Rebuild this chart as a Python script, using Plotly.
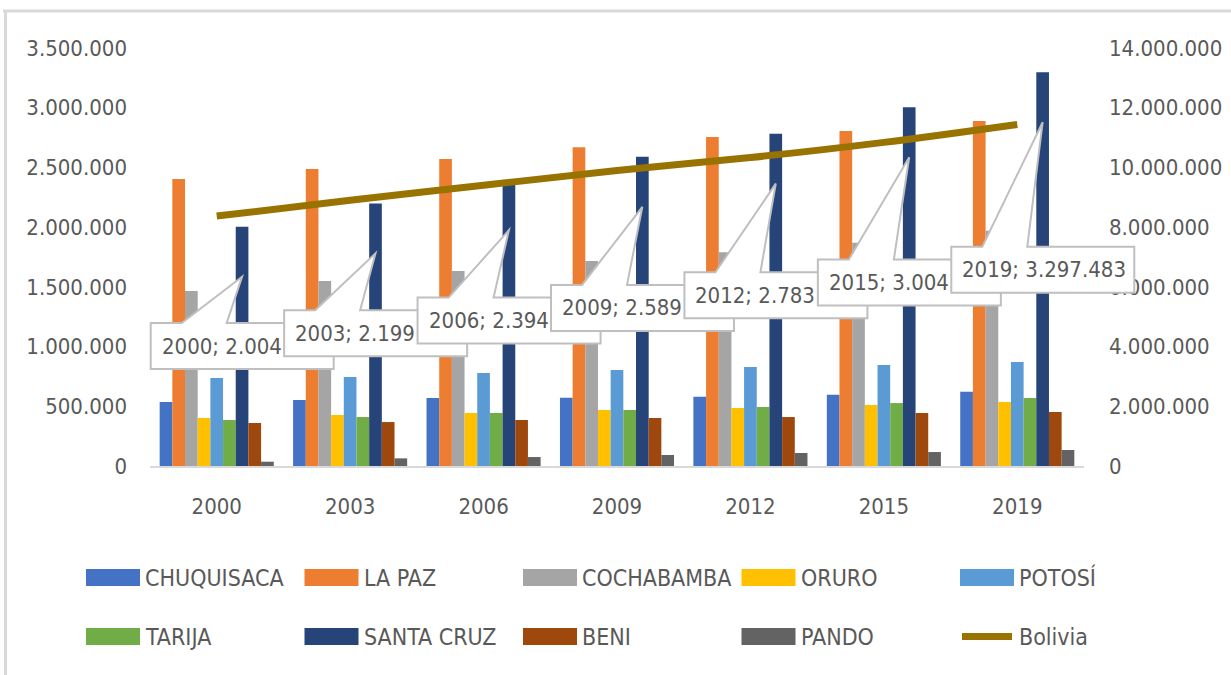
import plotly.graph_objects as go

# data (population by department)
years = ["2000", "2003", "2006", "2009", "2012", "2015", "2019"]
chuquisaca = [536000, 553000, 569000, 572000, 580000, 596000, 622000]
la_paz = [2403000, 2487000, 2570000, 2670000, 2755000, 2805000, 2889000]
cochabamba = [1465000, 1549000, 1633000, 1716000, 1790000, 1870000, 1970000]
oruro = [402000, 427000, 444000, 469000, 486000, 511000, 536000]
potosi = [737000, 745000, 779000, 804000, 829000, 846000, 871000]
tarija = [385000, 410000, 444000, 469000, 494000, 527000, 569000]
santa_cruz = [2004000, 2199000, 2394000, 2589000, 2783000, 3004000, 3297483]
beni = [360000, 368000, 385000, 402000, 410000, 444000, 452000]
pando = [36000, 64000, 75000, 92000, 109000, 117000, 134000]
bolivia = [8370000, 8900000, 9400000, 9900000, 10330000, 10840000, 11440000]

departments = ["CHUQUISACA", "LA PAZ", "COCHABAMBA", "ORURO", "POTOSÍ",
               "TARIJA", "SANTA CRUZ", "BENI", "PANDO"]
series = [chuquisaca, la_paz, cochabamba, oruro, potosi,
          tarija, santa_cruz, beni, pando]
colors = ["#4472C4", "#ED7D31", "#A5A5A5", "#FFC000", "#5B9BD5",
          "#70AD47", "#264478", "#9E480E", "#636363"]
line_color = "#997300"

FONT = "DejaVu Sans Condensed, Liberation Sans Narrow, sans-serif"
GRAY_TXT = "#595959"

# plot area geometry (pixels)
W, H = 1231, 675
L, R, T, B = 150, 147, 48, 209
PW, PH = W - L - R, H - T - B
NCAT = len(years)
PX_CAT = PW / NCAT
YMAX = 3.5e6
BARGAP = 0.145


def cat_paper(xc):  # category units -> paper x
    return (xc + 0.5) / NCAT


def dx(p):  # pixels -> category units
    return p / PX_CAT


def dy(p):  # pixels -> left axis units
    return p * YMAX / PH


def paper_x(px):
    return (px - L) / PW


def paper_y(py):
    return (H - B - py) / PH


x = list(range(NCAT))
fig = go.Figure()

for name, vals, col in zip(departments, series, colors):
    fig.add_trace(go.Bar(x=x, y=vals, name=name, marker_color=col,
                         marker_line_width=0, showlegend=False))

fig.add_trace(go.Scatter(x=x, y=bolivia, name="Bolivia", yaxis="y2",
                         mode="lines", line=dict(color=line_color, width=7, shape="spline"),
                         showlegend=False))

# callouts pointing at SANTA CRUZ bars (x in paper so the last box is not clipped)
bar_w = (1 - BARGAP) / len(series)
sc_off = -(1 - BARGAP) / 2 + bar_w * 6.5
shapes = []
annotations = []
for i, (yr, v) in enumerate(zip(years, santa_cruz)):
    if i < NCAT - 1:
        k = v // 1000
        txt = f"{yr}; {k // 1000}.{k % 1000:03d}"
    else:
        txt = f"{yr}; {v // 1000000}.{(v // 1000) % 1000:03d}.{v % 1000:03d}"
    top_px = 323 - 12.7 * i
    y_top = dy(H - B - top_px)
    y_bot = y_top - dy(46)
    x0 = i - dx(66)
    x1 = x0 + dx(183)
    b0, b1 = x0 + dx(31), x0 + dx(76)
    tx, ty = i + sc_off, v - dy(50)
    pts = [(x0, y_top), (b0, y_top), (tx, ty), (b1, y_top), (x1, y_top), (x1, y_bot), (x0, y_bot)]
    path = "M" + " L".join(f"{cat_paper(px)},{py}" for px, py in pts) + " Z"
    shapes.append(dict(type="path", path=path, xref="paper", yref="y", layer="above",
                       fillcolor="white", line=dict(color="#BFBFBF", width=2)))
    annotations.append(dict(x=x0 + dx(9), y=(y_top + y_bot) / 2, xref="x", yref="y",
                            text=txt, showarrow=False, xanchor="left", yanchor="middle",
                            font=dict(family=FONT, size=22, color=GRAY_TXT)))

# legend (drawn by hand to get Excel-like wide swatches)
leg_names = departments + ["Bolivia"]
leg_colors = colors + [line_color]
for j, (nm, col) in enumerate(zip(leg_names, leg_colors)):
    row, c = divmod(j, 5)
    sx = 86 + 218.5 * c
    cy = 577.5 + 59 * row
    if nm == "Bolivia":
        shapes.append(dict(type="line", xref="paper", yref="paper",
                           x0=paper_x(sx + 2), x1=paper_x(sx + 52), y0=paper_y(cy), y1=paper_y(cy),
                           line=dict(color=col, width=7)))
    else:
        shapes.append(dict(type="rect", xref="paper", yref="paper",
                           x0=paper_x(sx), x1=paper_x(sx + 54),
                           y0=paper_y(cy - 8.5), y1=paper_y(cy + 8.5),
                           fillcolor=col, line=dict(width=0)))
    annotations.append(dict(x=paper_x(sx + 57), y=paper_y(cy), xref="paper", yref="paper",
                            text=nm, showarrow=False, xanchor="left", yanchor="middle",
                            font=dict(family=FONT, size=23, color=GRAY_TXT)))

# chart frame (top and left edges)
shapes.append(dict(type="line", xref="paper", yref="paper", x0=paper_x(3), x1=paper_x(W),
                   y0=paper_y(11), y1=paper_y(11), line=dict(color="#D9D9D9", width=3)))
shapes.append(dict(type="line", xref="paper", yref="paper", x0=paper_x(5.5), x1=paper_x(5.5),
                   y0=paper_y(10), y1=paper_y(H), line=dict(color="#D9D9D9", width=3)))

tickfont = dict(family=FONT, size=22, color=GRAY_TXT)
fig.update_layout(
    width=W, height=H,
    margin=dict(l=L, r=R, t=T, b=B, autoexpand=False),
    paper_bgcolor="white", plot_bgcolor="white",
    barmode="group", bargap=BARGAP, bargroupgap=0,
    separators=",.",
    showlegend=False,
    xaxis=dict(range=[-0.5, NCAT - 0.5], tickvals=x, ticktext=years, automargin=False,
               showgrid=False, zeroline=False, showline=True, linecolor="#D9D9D9",
               linewidth=2, ticks="", ticklabelstandoff=20, tickfont=tickfont),
    yaxis=dict(range=[0, YMAX], dtick=500000, tickformat=",d", showgrid=False, automargin=False,
               zeroline=False, showline=False, ticks="", ticklabelstandoff=22,
               tickfont=tickfont),
    yaxis2=dict(range=[0, 14e6], dtick=2e6, tickformat=",d", overlaying="y", side="right",
                showgrid=False, zeroline=False, showline=False, ticks="", automargin=False,
                ticklabelstandoff=24, tickfont=tickfont),
    shapes=shapes,
    annotations=annotations,
)

# drop the default 8px page margin so the figure sits at the window origin
fig.write_html("out.html", config={"displayModeBar": False},
               post_script="document.body.style.margin='0';")
